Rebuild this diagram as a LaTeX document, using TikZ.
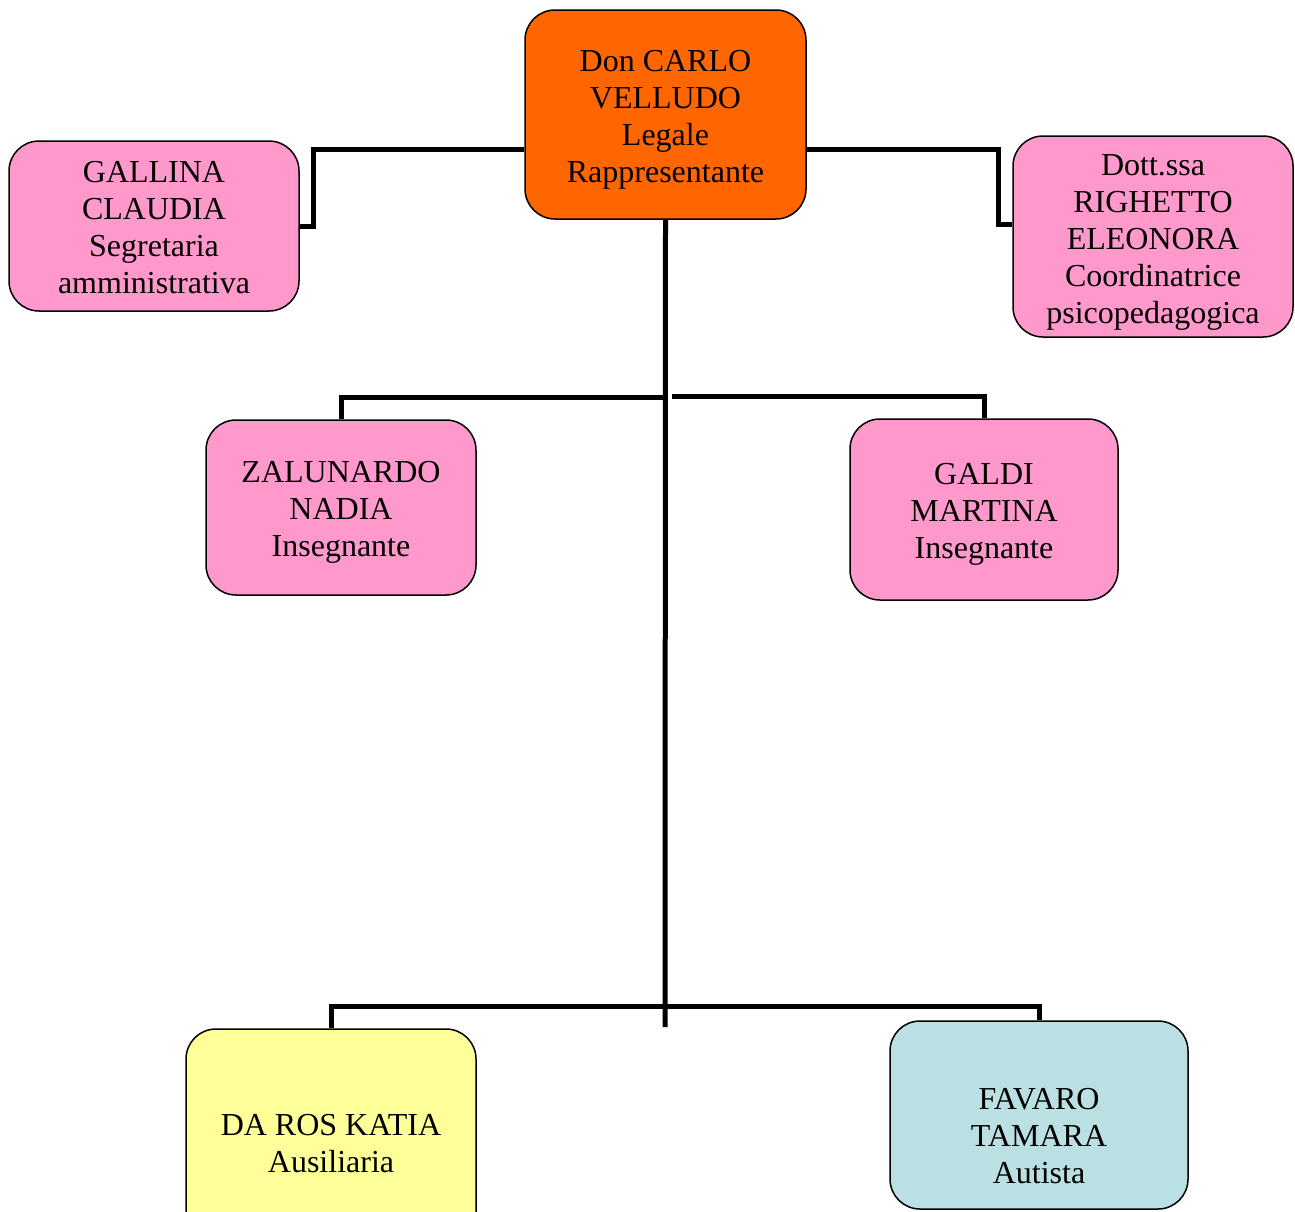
\documentclass[tikz,border=0pt]{standalone}
\usepackage{fontspec}
\setmainfont{Liberation Serif}
\usepackage{xcolor}
\usepackage{tikz}
\definecolor{boxorange}{HTML}{FF6600}
\definecolor{boxpink}{HTML}{FF99CC}
\definecolor{boxyellow}{HTML}{FFFF99}
\definecolor{boxblue}{HTML}{BBE0E3}
\newcommand{\lift}[1]{\rule{0pt}{#1}}

\begin{document}
\begin{tikzpicture}[x=1pt,y=-1pt]
\fontsize{32}{37}\selectfont
\tikzstyle{main}=[rectangle, rounded corners=30pt, draw=black, line width=1.5pt, align=center, inner sep=0pt]
\tikzstyle{link}=[line width=5pt, draw=black]
\useasboundingbox (0,0) rectangle (1295,1211);
\node[main, fill=boxorange, minimum width=281pt, minimum height=209pt] (carlo) at (665.5,114.5) {\lift{31pt}Don CARLO\\VELLUDO\\Legale\\Rappresentante};
\node[main, fill=boxpink, minimum width=290pt, minimum height=170pt] (gallina) at (154,226) {\lift{25pt}GALLINA\\CLAUDIA\\Segretaria\\amministrativa};
\node[main, fill=boxpink, minimum width=280pt, minimum height=201pt] (righetto) at (1153,236.5) {\lift{33pt}Dott.ssa\\RIGHETTO\\ELEONORA\\Coordinatrice\\psicopedagogica};
\node[main, fill=boxpink, minimum width=270pt, minimum height=175pt] (zalunardo) at (341,507.5) {\lift{31pt}ZALUNARDO\\NADIA\\Insegnante};
\node[main, fill=boxpink, minimum width=268pt, minimum height=181pt] (galdi) at (984,509.5) {\lift{31pt}GALDI\\MARTINA\\Insegnante};
\node[main, fill=boxyellow, minimum width=290pt, minimum height=226pt] (daros) at (331,1142) {\lift{25pt}DA ROS KATIA\\Ausiliaria};
\node[main, fill=boxblue, minimum width=298pt, minimum height=188pt] (favaro) at (1039,1115) {\lift{63pt}FAVARO\\TAMARA\\Autista};
\coordinate (trunk) at (665,1027);
\coordinate (midl) at (665,397);
\coordinate (midr) at (672,396);
\coordinate (low) at (665,1006);
% connectors
\draw[link] (carlo.west) ++(0,34.5) -| ([xshift=14pt]gallina.east) -- (gallina.east);
\draw[link] (carlo.east) ++(0,34.5) -| ([xshift=-14pt,yshift=12pt]righetto.west) -- ([yshift=12pt]righetto.west);
\draw[link] (carlo.south) -- (trunk);
\draw[link] (midl) -| (zalunardo.north);
\draw[link] (midr) -| (galdi.north);
\draw[link] (daros.north) |- (low) -| (favaro.north);
\end{tikzpicture}
\end{document}
